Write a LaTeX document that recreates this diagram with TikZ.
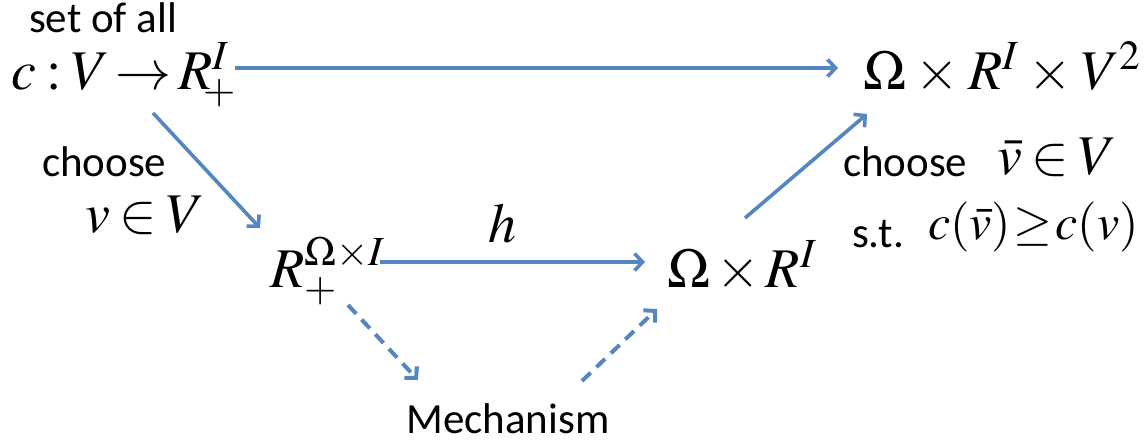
\documentclass[tikz,border=0pt]{standalone}
\usepackage{mathptmx}
\usepackage[no-math]{fontspec}
\setmainfont{Carlito}
\usetikzlibrary{arrows.meta}
\definecolor{arrblue}{RGB}{84,134,194}
\tikzset{
  txt/.style={inner sep=0pt, outer sep=0pt, font=\fontsize{43}{50}\selectfont},
  mth/.style={inner sep=0pt, outer sep=0pt, font=\fontsize{56}{64}\selectfont},
  mths/.style={inner sep=0pt, outer sep=0pt, font=\fontsize{50}{58}\selectfont},
  arr/.style={draw=arrblue, line width=3.6pt, -{Straight Barb[length=8pt,width=17pt]}},
  darr/.style={arr, line width=4pt, dash pattern=on 12pt off 8pt}
}
\begin{document}
\begin{tikzpicture}[x=1pt,y=-1pt]
\useasboundingbox (0,0) rectangle (1146,443);
% nodes
\node[txt, anchor=base] (setall) at (103,33) {set of all};
\node[mth, anchor=base west] (cmap) at (12,90) {$c\mskip3mu{:}\mskip3mu V\mskip2mu{\rightarrow}\mskip2mu R^{I}_{\!\!+}$};
\node[mth, anchor=base west] (omr3) at (863,90) {$\Omega\mskip3mu{\times}\mskip3mu R^I\mskip3mu{\times}\mskip3mu V^2$};
\node[txt, anchor=base west] (chooseL) at (42,177) {choose};
\node[mth, anchor=base west] (vinV) at (85,233) {$v\mskip3mu{\in}\mskip3mu V$};
\node[mth, anchor=base west] (Rplus) at (270,288) {$R_+^{\Omega\times I}$};
\node[mth, anchor=base] (h) at (502,243) {$h$};
\node[mth, anchor=base west] (omr) at (667,288) {$\Omega\mskip2mu{\times}\mskip2mu R^I$};
\node[txt, anchor=base west] (chooseR) at (843,177) {choose};
\node[mth, anchor=base west] (vbar) at (997,175) {$\bar{v}\mskip3mu{\in}\mskip3mu V$};
\node[txt, anchor=base west] (st) at (852,248) {s.t.};
\node[mths, anchor=base west] (ineq) at (928,240) {$c(\bar{v})\mskip1mu{\geq}\mskip1mu c(v)$};
\node[txt, anchor=base] (mech) at (508,433) {Mechanism};
% connectors
\draw[arr] ([xshift=223pt,yshift=22pt]cmap.base west) -- ([xshift=-25pt,yshift=22pt]omr3.base west);
\draw[arr] ([xshift=141pt,yshift=-23pt]cmap.base west) -- ([xshift=-10pt,yshift=60pt]Rplus.base west);
\draw[arr] ([xshift=110pt,yshift=26pt]Rplus.base west) -- ([xshift=-22pt,yshift=26pt]omr.base west);
\draw[arr] ([xshift=78pt,yshift=70pt]omr.base west) -- ([xshift=4pt,yshift=-24pt]omr3.base west);
\draw[darr] ([xshift=78pt,yshift=-17pt]Rplus.base west) -- ([xshift=-90pt,yshift=53pt]mech.base);
\draw[darr] ([xshift=74pt,yshift=52pt]mech.base) -- ([xshift=-10pt,yshift=-21pt]omr.base west);
\end{tikzpicture}
\end{document}
